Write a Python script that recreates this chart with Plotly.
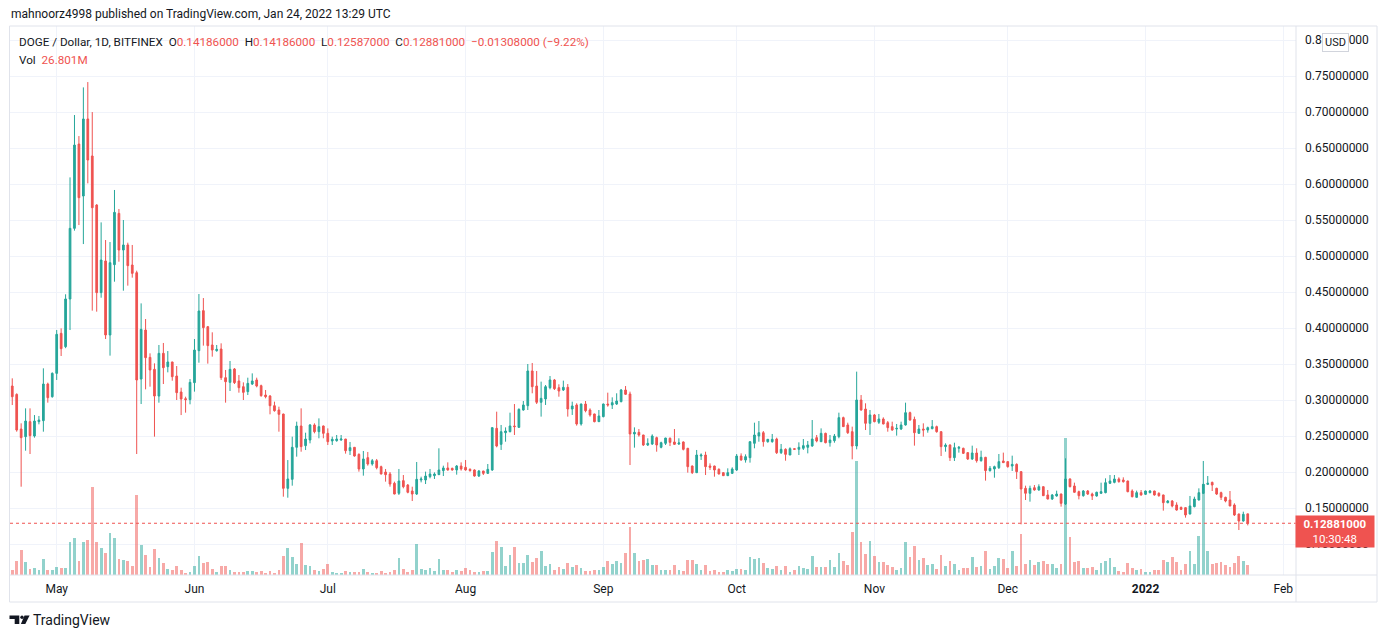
import pandas as pd
import plotly.graph_objects as go

# DOGE / USD daily, Bitfinex, 2021-04-21 .. 2022-01-24
START_DATE = '2021-04-21'
END_DATE = '2022-01-24'

OPEN = [
    # Apr 21-30
    0.3194, 0.3078, 0.2597, 0.2491, 0.2699, 0.2500, 0.2699, 0.2713, 0.3222, 0.3046,
    # May
    0.3370, 0.3926, 0.3741, 0.4403, 0.5384, 0.6555, 0.5833, 0.6903, 0.6389, 0.5708,
    0.4491, 0.4931, 0.3903, 0.4880, 0.5592, 0.5083, 0.5153, 0.4875, 0.4768, 0.3291,
    0.3972, 0.3592, 0.3426, 0.3055, 0.3648, 0.3463, 0.3528, 0.3333, 0.3111, 0.3018, 0.3005,
    # Jun
    0.3241, 0.3685, 0.4241, 0.4018, 0.3764, 0.3685, 0.3708, 0.3310, 0.3245, 0.3431,
    0.3264, 0.3185, 0.3116, 0.3222, 0.3278, 0.3199, 0.3069, 0.3055, 0.2921, 0.2861,
    0.2805, 0.1773, 0.1898, 0.2343, 0.2639, 0.2366, 0.2444, 0.2653, 0.2560, 0.2639,
    # Jul
    0.2537, 0.2431, 0.2435, 0.2444, 0.2458, 0.2296, 0.2343, 0.2245, 0.2042, 0.2199,
    0.2111, 0.2157, 0.2074, 0.2000, 0.1972, 0.1843, 0.1704, 0.1880, 0.1819, 0.1736,
    0.1694, 0.1889, 0.1889, 0.1935, 0.1949, 0.1963, 0.2019, 0.2056, 0.2051, 0.2028, 0.2083,
    # Aug
    0.2065, 0.2037, 0.2028, 0.1944, 0.2014, 0.1981, 0.2028, 0.2606, 0.2384, 0.2546,
    0.2560, 0.2639, 0.2620, 0.2861, 0.2921, 0.3403, 0.3194, 0.2968, 0.3014, 0.3171,
    0.3278, 0.3171, 0.3139, 0.3176, 0.2875, 0.2931, 0.2667, 0.2944, 0.2861, 0.2806, 0.2699,
    # Sep
    0.2769, 0.2944, 0.2931, 0.2944, 0.2977, 0.3139, 0.3083, 0.2528, 0.2551, 0.2514,
    0.2375, 0.2389, 0.2477, 0.2343, 0.2398, 0.2468, 0.2417, 0.2389, 0.2417, 0.2329,
    0.2083, 0.1991, 0.2222, 0.2236, 0.2083, 0.2083, 0.2037, 0.1991, 0.1949, 0.1981,
    # Oct
    0.2028, 0.2222, 0.2167, 0.2199, 0.2398, 0.2500, 0.2546, 0.2421, 0.2421, 0.2458,
    0.2268, 0.2315, 0.2236, 0.2324, 0.2315, 0.2329, 0.2343, 0.2361, 0.2477, 0.2421,
    0.2537, 0.2407, 0.2435, 0.2491, 0.2755, 0.2653, 0.2560, 0.2361, 0.3000, 0.2875, 0.2676,
    # Nov
    0.2792, 0.2690, 0.2736, 0.2685, 0.2630, 0.2597, 0.2597, 0.2653, 0.2824, 0.2731,
    0.2537, 0.2597, 0.2583, 0.2602, 0.2630, 0.2560, 0.2352, 0.2375, 0.2199, 0.2329,
    0.2329, 0.2269, 0.2181, 0.2264, 0.2157, 0.2204, 0.2019, 0.2042, 0.2060, 0.2153,
    # Dec
    0.2144, 0.2083, 0.2106, 0.2005, 0.1773, 0.1704, 0.1782, 0.1750, 0.1796, 0.1681,
    0.1625, 0.1667, 0.1694, 0.1556, 0.1903, 0.1806, 0.1727, 0.1671, 0.1736, 0.1694,
    0.1667, 0.1704, 0.1713, 0.1843, 0.1856, 0.1903, 0.1889, 0.1875, 0.1736, 0.1648, 0.1713,
    # Jan 1-24
    0.1690, 0.1713, 0.1736, 0.1704, 0.1681, 0.1574, 0.1597, 0.1542, 0.1509, 0.1505,
    0.1417, 0.1519, 0.1611, 0.1704, 0.1829, 0.1856, 0.1773, 0.1713, 0.1648, 0.1611,
    0.1542, 0.1417, 0.1319, 0.14186,
]

HIGH = [
    0.3301, 0.3092, 0.2676, 0.2884, 0.2884, 0.2791, 0.2778, 0.3440, 0.3241, 0.3384,
    0.3972, 0.3995, 0.4468, 0.6092, 0.6958, 0.6666, 0.7342, 0.7416, 0.6999, 0.5720,
    0.5467, 0.5222, 0.5194, 0.5917, 0.5653, 0.5500, 0.5185, 0.5153, 0.4796, 0.4342,
    0.4125, 0.3648, 0.3509, 0.3764, 0.3792, 0.3680, 0.3530, 0.3472, 0.3171, 0.3046, 0.3291,
    0.3847, 0.4472, 0.4416, 0.4028, 0.3940, 0.3764, 0.3787, 0.3417, 0.3542, 0.3444,
    0.3347, 0.3245, 0.3310, 0.3370, 0.3310, 0.3213, 0.3139, 0.3069, 0.2977, 0.2907,
    0.2810, 0.2166, 0.2491, 0.2699, 0.2884, 0.2546, 0.2666, 0.2676, 0.2745, 0.2645,
    0.2606, 0.2491, 0.2514, 0.2514, 0.2460, 0.2417, 0.2345, 0.2259, 0.2292, 0.2278,
    0.2181, 0.2181, 0.2088, 0.2042, 0.2000, 0.1866, 0.2042, 0.1958, 0.1833, 0.1796,
    0.2139, 0.1935, 0.2005, 0.2042, 0.1995, 0.2329, 0.2088, 0.2134, 0.2060, 0.2097, 0.2134,
    0.2167, 0.2051, 0.2037, 0.2028, 0.2016, 0.2111, 0.2620, 0.2838, 0.2653, 0.2620,
    0.2824, 0.2944, 0.2884, 0.2986, 0.3500, 0.3514, 0.3403, 0.3255, 0.3208, 0.3333,
    0.3292, 0.3218, 0.3269, 0.3222, 0.2977, 0.2954, 0.2950, 0.2986, 0.2884, 0.2810, 0.2861,
    0.2950, 0.3102, 0.3037, 0.3093, 0.3153, 0.3194, 0.3116, 0.2620, 0.2597, 0.2516,
    0.2468, 0.2523, 0.2491, 0.2421, 0.2475, 0.2480, 0.2597, 0.2468, 0.2425, 0.2335,
    0.2090, 0.2306, 0.2259, 0.2282, 0.2120, 0.2088, 0.2051, 0.1995, 0.2051, 0.2065,
    0.2250, 0.2259, 0.2245, 0.2425, 0.2685, 0.2708, 0.2569, 0.2458, 0.2528, 0.2477,
    0.2389, 0.2329, 0.2343, 0.2329, 0.2412, 0.2458, 0.2431, 0.2722, 0.2514, 0.2606,
    0.2546, 0.2514, 0.2528, 0.2824, 0.2769, 0.2685, 0.2630, 0.3394, 0.3069, 0.2954, 0.2861,
    0.2806, 0.2806, 0.2759, 0.2708, 0.2699, 0.2667, 0.2699, 0.2963, 0.2838, 0.2769,
    0.2653, 0.2676, 0.2630, 0.2722, 0.2644, 0.2565, 0.2398, 0.2384, 0.2407, 0.2361,
    0.2338, 0.2275, 0.2366, 0.2329, 0.2296, 0.2210, 0.2083, 0.2088, 0.2250, 0.2269,
    0.2148, 0.2227, 0.2120, 0.2010, 0.1810, 0.1810, 0.1819, 0.1829, 0.1800, 0.1750,
    0.1694, 0.1741, 0.1700, 0.2190, 0.1912, 0.1852, 0.1741, 0.1750, 0.1750, 0.1713,
    0.1727, 0.1852, 0.1912, 0.1958, 0.1958, 0.1926, 0.1926, 0.1880, 0.1759, 0.1741, 0.1750,
    0.1741, 0.1750, 0.1740, 0.1718, 0.1685, 0.1611, 0.1611, 0.1579, 0.1519, 0.1509,
    0.1667, 0.1657, 0.1773, 0.2153, 0.1944, 0.1866, 0.1782, 0.1727, 0.1657, 0.1736,
    0.1565, 0.1420, 0.1449, 0.14186,
]

LOW = [
    0.2930, 0.2560, 0.1796, 0.2296, 0.2250, 0.2477, 0.2662, 0.2560, 0.2963, 0.3032,
    0.3278, 0.3611, 0.3720, 0.3972, 0.5352, 0.5430, 0.5166, 0.6009, 0.4241, 0.4227,
    0.4421, 0.3847, 0.3616, 0.4643, 0.4921, 0.4518, 0.4588, 0.4699, 0.2250, 0.2944,
    0.3148, 0.3185, 0.2491, 0.2963, 0.3222, 0.3384, 0.3268, 0.3000, 0.2791, 0.2824, 0.2940,
    0.3116, 0.3518, 0.3755, 0.3505, 0.3602, 0.3671, 0.3278, 0.2963, 0.3125, 0.3222,
    0.3102, 0.3000, 0.3069, 0.3208, 0.3176, 0.3046, 0.3023, 0.2801, 0.2838, 0.2560,
    0.1657, 0.1643, 0.1810, 0.2213, 0.2282, 0.2305, 0.2398, 0.2537, 0.2468, 0.2468,
    0.2375, 0.2375, 0.2421, 0.2435, 0.2255, 0.2236, 0.2213, 0.2005, 0.1949, 0.2088,
    0.2088, 0.2037, 0.1968, 0.1866, 0.1796, 0.1690, 0.1681, 0.1773, 0.1704, 0.1597,
    0.1681, 0.1856, 0.1833, 0.1912, 0.1903, 0.1958, 0.1944, 0.2019, 0.2019, 0.1963, 0.2019,
    0.2019, 0.2005, 0.1935, 0.1931, 0.1958, 0.1972, 0.2015, 0.2343, 0.2306, 0.2421,
    0.2551, 0.2514, 0.2616, 0.2852, 0.2861, 0.3093, 0.2944, 0.2769, 0.2931, 0.3148,
    0.3139, 0.3046, 0.3125, 0.2769, 0.2792, 0.2644, 0.2644, 0.2829, 0.2769, 0.2690, 0.2695,
    0.2759, 0.2907, 0.2875, 0.2931, 0.2968, 0.3069, 0.2097, 0.2338, 0.2491, 0.2361,
    0.2361, 0.2375, 0.2282, 0.2329, 0.2375, 0.2360, 0.2375, 0.2375, 0.2300, 0.1991,
    0.1972, 0.1985, 0.2167, 0.1958, 0.2028, 0.1935, 0.1968, 0.1944, 0.1944, 0.1972,
    0.2014, 0.2157, 0.2130, 0.2130, 0.2329, 0.2421, 0.2352, 0.2407, 0.2407, 0.2250,
    0.2250, 0.2157, 0.2236, 0.2306, 0.2236, 0.2306, 0.2259, 0.2350, 0.2412, 0.2421,
    0.2398, 0.2352, 0.2407, 0.2468, 0.2628, 0.2528, 0.2176, 0.2315, 0.2852, 0.2583, 0.2514,
    0.2690, 0.2667, 0.2662, 0.2560, 0.2574, 0.2505, 0.2583, 0.2644, 0.2713, 0.2366,
    0.2528, 0.2491, 0.2546, 0.2593, 0.2546, 0.2222, 0.2282, 0.2153, 0.2153, 0.2269,
    0.2250, 0.2167, 0.2167, 0.2130, 0.2144, 0.1880, 0.2005, 0.1921, 0.2042, 0.2125,
    0.2060, 0.2014, 0.1903, 0.1273, 0.1611, 0.1588, 0.1741, 0.1741, 0.1667, 0.1620,
    0.1611, 0.1657, 0.1519, 0.1542, 0.1787, 0.1713, 0.1620, 0.1657, 0.1681, 0.1611,
    0.1657, 0.1694, 0.1704, 0.1833, 0.1843, 0.1852, 0.1852, 0.1718, 0.1648, 0.1644, 0.1671,
    0.1681, 0.1704, 0.1671, 0.1657, 0.1463, 0.1565, 0.1509, 0.1463, 0.1472, 0.1366,
    0.1410, 0.1509, 0.1605, 0.1694, 0.1819, 0.1736, 0.1681, 0.1611, 0.1579, 0.1525,
    0.1389, 0.1194, 0.1310, 0.12587,
]

CLOSE = [
    0.3046, 0.2583, 0.2477, 0.2708, 0.2505, 0.2708, 0.2722, 0.3222, 0.3032, 0.3370,
    0.3912, 0.3713, 0.4403, 0.5384, 0.6541, 0.5810, 0.6903, 0.6333, 0.5671, 0.4491,
    0.4944, 0.3903, 0.4907, 0.5606, 0.5083, 0.5153, 0.4866, 0.4759, 0.3278, 0.3981,
    0.3588, 0.3417, 0.3055, 0.3648, 0.3449, 0.3528, 0.3324, 0.3102, 0.3014, 0.3005, 0.3245,
    0.3694, 0.4236, 0.4005, 0.3755, 0.3694, 0.3704, 0.3310, 0.3254, 0.3426, 0.3241,
    0.3171, 0.3106, 0.3231, 0.3264, 0.3194, 0.3060, 0.3046, 0.2921, 0.2851, 0.2801,
    0.1773, 0.1903, 0.2343, 0.2639, 0.2352, 0.2458, 0.2653, 0.2560, 0.2630, 0.2537,
    0.2421, 0.2454, 0.2458, 0.2458, 0.2296, 0.2338, 0.2222, 0.2042, 0.2181, 0.2111,
    0.2157, 0.2060, 0.1972, 0.1963, 0.1833, 0.1694, 0.1875, 0.1796, 0.1718, 0.1694,
    0.1898, 0.1903, 0.1944, 0.1972, 0.1972, 0.2028, 0.2056, 0.2028, 0.2028, 0.2083, 0.2042,
    0.2028, 0.2019, 0.1944, 0.2014, 0.1981, 0.2037, 0.2616, 0.2361, 0.2560, 0.2569,
    0.2639, 0.2630, 0.2870, 0.2931, 0.3403, 0.3185, 0.2968, 0.3023, 0.3185, 0.3278,
    0.3157, 0.3125, 0.3176, 0.2875, 0.2917, 0.2667, 0.2944, 0.2852, 0.2792, 0.2699, 0.2778,
    0.2944, 0.2931, 0.2963, 0.2986, 0.3139, 0.3079, 0.2528, 0.2551, 0.2514, 0.2375,
    0.2398, 0.2500, 0.2375, 0.2407, 0.2472, 0.2412, 0.2384, 0.2403, 0.2315, 0.2074,
    0.1991, 0.2236, 0.2236, 0.2074, 0.2065, 0.2028, 0.1972, 0.1949, 0.1991, 0.2042,
    0.2222, 0.2167, 0.2213, 0.2421, 0.2514, 0.2546, 0.2421, 0.2454, 0.2454, 0.2268,
    0.2315, 0.2245, 0.2324, 0.2315, 0.2343, 0.2366, 0.2375, 0.2458, 0.2431, 0.2537,
    0.2407, 0.2444, 0.2500, 0.2755, 0.2630, 0.2546, 0.2361, 0.3000, 0.2861, 0.2676, 0.2792,
    0.2699, 0.2736, 0.2667, 0.2616, 0.2583, 0.2606, 0.2653, 0.2824, 0.2722, 0.2546,
    0.2597, 0.2583, 0.2616, 0.2630, 0.2560, 0.2352, 0.2375, 0.2199, 0.2338, 0.2343,
    0.2259, 0.2181, 0.2264, 0.2157, 0.2204, 0.2019, 0.2051, 0.2074, 0.2144, 0.2130,
    0.2074, 0.2106, 0.2005, 0.1764, 0.1704, 0.1773, 0.1750, 0.1796, 0.1671, 0.1625,
    0.1681, 0.1694, 0.1565, 0.1903, 0.1796, 0.1718, 0.1671, 0.1736, 0.1694, 0.1667,
    0.1718, 0.1727, 0.1852, 0.1875, 0.1903, 0.1866, 0.1866, 0.1727, 0.1657, 0.1713, 0.1681,
    0.1736, 0.1736, 0.1681, 0.1671, 0.1574, 0.1597, 0.1528, 0.1472, 0.1481, 0.1403,
    0.1528, 0.1625, 0.1713, 0.1829, 0.1843, 0.1819, 0.1694, 0.1648, 0.1597, 0.1528,
    0.1403, 0.1319, 0.1412, 0.12881,
]

# volume, millions of DOGE
VOLUME = [
    13.4, 37.5, 67.0, 34.8, 16.1, 18.8, 13.4, 42.9, 13.4, 13.4,
    21.4, 18.8, 18.8, 88.4, 99.2, 37.5, 88.4, 93.8, 235.8, 88.4,
    72.4, 59.0, 112.6, 99.2, 42.9, 40.2, 37.5, 24.1, 214.4, 80.4,
    53.6, 21.4, 69.7, 45.6, 32.2, 16.1, 13.4, 24.1, 13.4, 5.4, 8.0,
    24.1, 50.9, 32.2, 34.8, 16.1, 8.0, 24.1, 24.1, 13.4, 8.0,
    8.0, 8.0, 10.7, 10.7, 8.0, 10.7, 5.4, 10.7, 5.4, 13.4,
    50.9, 72.4, 48.2, 29.5, 85.8, 26.8, 24.1, 13.4, 10.7, 16.1,
    29.5, 8.0, 5.4, 5.4, 10.7, 8.0, 8.0, 8.0, 16.1, 8.0,
    5.4, 5.4, 10.7, 5.4, 8.0, 13.4, 45.6, 16.1, 8.0, 13.4,
    83.1, 16.1, 13.4, 18.8, 10.7, 42.9, 13.4, 13.4, 8.0, 13.4, 10.7,
    18.8, 13.4, 8.0, 8.0, 10.7, 10.7, 61.6, 91.1, 75.0, 24.1,
    53.6, 75.0, 32.2, 32.2, 53.6, 34.8, 45.6, 64.3, 24.1, 29.5,
    13.4, 21.4, 16.1, 32.2, 21.4, 26.8, 18.8, 10.7, 10.7, 13.4, 13.4,
    21.4, 37.5, 29.5, 37.5, 32.2, 59.0, 128.6, 59.0, 37.5, 40.2,
    42.9, 26.8, 26.8, 13.4, 13.4, 13.4, 26.8, 13.4, 10.7, 40.2,
    40.2, 29.5, 13.4, 26.8, 10.7, 13.4, 8.0, 8.0, 13.4, 10.7,
    16.1, 16.1, 13.4, 48.2, 42.9, 45.6, 32.2, 18.8, 16.1, 24.1,
    13.4, 24.1, 8.0, 13.4, 24.1, 18.8, 16.1, 50.9, 21.4, 21.4,
    21.4, 40.2, 21.4, 59.0, 37.5, 26.8, 115.2, 305.5, 88.4, 56.3, 91.1,
    50.9, 34.8, 34.8, 26.8, 21.4, 13.4, 18.8, 88.4, 48.2, 77.7,
    40.2, 45.6, 26.8, 29.5, 16.1, 53.6, 24.1, 37.5, 29.5, 13.4,
    18.8, 18.8, 48.2, 21.4, 24.1, 64.3, 16.1, 24.1, 45.6, 42.9,
    18.8, 64.3, 24.1, 109.9, 29.5, 40.2, 26.8, 34.8, 37.5, 29.5,
    29.5, 18.8, 29.5, 367.2, 101.8, 34.8, 37.5, 18.8, 18.8, 21.4,
    13.4, 32.2, 37.5, 45.6, 21.4, 10.7, 8.0, 32.2, 18.8, 13.4, 16.1,
    8.0, 8.0, 13.4, 13.4, 40.2, 34.8, 48.2, 34.8, 13.4, 29.5,
    64.3, 29.5, 104.5, 243.9, 64.3, 29.5, 32.2, 34.8, 26.8, 21.4,
    32.2, 50.9, 37.5, 26.801,
]

MONTH_TICKS = ['2021-05-01', '2021-06-01', '2021-07-01', '2021-08-01', '2021-09-01',
               '2021-10-01', '2021-11-01', '2021-12-01', '2022-01-01', '2022-02-01']
MONTH_LABELS = ['May', 'Jun', 'Jul', 'Aug', 'Sep', 'Oct', 'Nov', 'Dec', '<b>2022</b>', 'Feb']
PRICE_TICKS = [0.10, 0.15, 0.20, 0.25, 0.30, 0.35, 0.40, 0.45, 0.50,
               0.55, 0.60, 0.65, 0.70, 0.75, 0.80]
LAST_PRICE = 0.12881

UP = '#26a69a'
DOWN = '#ef5350'
UP_VOL = 'rgba(38,166,154,0.5)'
DOWN_VOL = 'rgba(239,83,80,0.5)'
TEXT = '#131722'
GRID = '#f0f3fa'
BORDER = '#e0e3eb'
FONT = 'Roboto'

# the page puts the plot div 8px in from the top-left corner (body margin),
# so page pixels are turned into figure pixels by subtracting PAGE_OFF
PAGE_W, PAGE_H = 1387, 638
PAGE_OFF = 8
W, H = PAGE_W - PAGE_OFF, PAGE_H - PAGE_OFF
PL, PR, PT, PB = 10, 1296, 26, 575   # plot area in page pixels


def px(x):
    return (x - PL) / (PR - PL)


def py(y):
    return (PB - y) / (PB - PT)


def pixel_path(points):
    parts = [f'{"M" if i == 0 else "L"} {px(x):.5f} {py(y):.5f}' for i, (x, y) in enumerate(points)]
    return ' '.join(parts) + ' Z'


def build_figure():
    df = pd.DataFrame({
        'date': pd.date_range(START_DATE, END_DATE, freq='D'),
        'open': OPEN, 'high': HIGH, 'low': LOW, 'close': CLOSE, 'volume': VOLUME,
    })
    vol_colors = [UP_VOL if c >= o else DOWN_VOL for o, c in zip(df['open'], df['close'])]

    fig = go.Figure()

    fig.add_trace(go.Bar(
        x=df['date'], y=df['volume'], yaxis='y',
        marker=dict(color=vol_colors, line=dict(width=0)),
        width=0.62 * 86400000, hoverinfo='skip',
    ))

    fig.add_trace(go.Candlestick(
        x=df['date'], open=df['open'], high=df['high'], low=df['low'], close=df['close'],
        yaxis='y2', whiskerwidth=0,
        increasing=dict(line=dict(color=UP, width=1), fillcolor=UP),
        decreasing=dict(line=dict(color=DOWN, width=1), fillcolor=DOWN),
    ))

    px_per_day = (1283.3 - 56.7) / 276
    left_days = (PL - 56.7) / px_per_day
    right_days = (PR - 56.7) / px_per_day
    x0 = pd.Timestamp('2021-05-01') + pd.Timedelta(days=left_days)
    x1 = pd.Timestamp('2021-05-01') + pd.Timedelta(days=right_days)

    y_top = 0.75 + (76 - PT) / 720
    y_bottom = 0.75 - (PB - 76) / 720

    fig.update_layout(
        width=W, height=H,
        margin=dict(l=PL - PAGE_OFF, r=PAGE_W - PR, t=PT - PAGE_OFF, b=PAGE_H - PB),
        paper_bgcolor='white', plot_bgcolor='white',
        showlegend=False, boxgap=0.45, bargap=0,
        font=dict(family=FONT, color=TEXT, size=12),
        xaxis=dict(
            type='date', range=[x0, x1],
            rangeslider=dict(visible=False),
            tickvals=MONTH_TICKS, ticktext=MONTH_LABELS,
            showgrid=True, gridcolor=GRID, gridwidth=1,
            zeroline=False, showline=False, ticks='',
            ticklabelstandoff=5,
            tickfont=dict(family=FONT, size=12, color=TEXT),
        ),
        yaxis=dict(
            range=[0, (PB - PT) * 2.68], visible=False, showgrid=False, fixedrange=True,
        ),
        yaxis2=dict(
            overlaying='y', side='right', range=[y_bottom, y_top],
            tickvals=PRICE_TICKS, ticktext=[f'{v:.8f}' for v in PRICE_TICKS],
            showgrid=True, gridcolor=GRID, gridwidth=1,
            zeroline=False, showline=False, ticks='',
            ticklabelstandoff=8,
            tickfont=dict(family=FONT, size=12, color=TEXT),
        ),
    )

    shapes = [
        # last price dotted line
        dict(type='line', xref='paper', yref='y2', x0=0, x1=1, y0=LAST_PRICE, y1=LAST_PRICE,
             line=dict(color=DOWN, width=1, dash='dot')),
        # outer frame, time scale separator, price scale separator
        dict(type='rect', xref='paper', yref='paper', x0=px(9.5), x1=px(1377), y0=py(602), y1=py(26),
             line=dict(color=BORDER, width=1)),
        dict(type='line', xref='paper', yref='paper', x0=px(9.5), x1=px(1377), y0=0, y1=0,
             line=dict(color=BORDER, width=1)),
        dict(type='line', xref='paper', yref='paper', x0=1, x1=1, y0=py(602), y1=py(26),
             line=dict(color=BORDER, width=1)),
        # TradingView logo
        dict(type='path', xref='paper', yref='paper', line=dict(width=0), fillcolor=TEXT,
             path=pixel_path([(9.5, 615.5), (19.3, 615.5), (19.3, 624), (14.7, 624), (14.7, 619), (9.5, 619)])),
        dict(type='circle', xref='paper', yref='paper', line=dict(width=0), fillcolor=TEXT,
             x0=px(20.3), x1=px(23.7), y0=py(619), y1=py(615.6)),
        dict(type='path', xref='paper', yref='paper', line=dict(width=0), fillcolor=TEXT,
             path=pixel_path([(24.5, 615.5), (29.6, 615.5), (25.3, 624), (20.9, 624)])),
    ]
    fig.update_layout(shapes=shapes)

    red = f"<span style='color:{DOWN}'>"
    legend = (f"DOGE / Dollar, 1D, BITFINEX&nbsp;&nbsp;O{red}0.14186000</span>&nbsp;&nbsp;"
              f"H{red}0.14186000</span>&nbsp;&nbsp;L{red}0.12587000</span>&nbsp;&nbsp;"
              f"C{red}0.12881000</span>&nbsp;&nbsp;{red}−0.01308000 (−9.22%)</span>")

    annotations = [
        dict(text='mahnoorz4998 published on TradingView.com, Jan 24, 2022 13:29 UTC',
             x=px(9), y=py(14), xanchor='left', yanchor='middle',
             font=dict(size=12, color=TEXT)),
        dict(text=legend, x=px(17), y=py(42), xanchor='left', yanchor='middle',
             font=dict(size=11.7, color=TEXT)),
        dict(text=f"Vol&nbsp;&nbsp;{red}26.801M</span>", x=px(17), y=py(60),
             xanchor='left', yanchor='middle', font=dict(size=11.7, color=TEXT)),
        dict(text='USD', x=px(1335.5), y=py(42.5), xanchor='center', yanchor='middle',
             font=dict(size=11, color=TEXT), bgcolor='white', bordercolor='#d1d4dc',
             borderwidth=1, borderpad=2),
        dict(text='<b>0.12881000</b><br>10:30:48', x=px(1295), y=LAST_PRICE, yref='y2',
             xanchor='left', yanchor='middle', yshift=-8.5, align='center',
             width=74, height=27, borderpad=2, bgcolor=DOWN,
             font=dict(size=11.5, color='white')),
        dict(text='TradingView', x=px(31), y=py(620), xanchor='left', yanchor='middle',
             font=dict(size=14, color=TEXT)),
    ]
    for a in annotations:
        a.setdefault('xref', 'paper')
        a.setdefault('yref', 'paper')
        a['showarrow'] = False
    fig.update_layout(annotations=annotations)

    return fig


if __name__ == '__main__':
    fig = build_figure()
    fig.write_html('out.html')
